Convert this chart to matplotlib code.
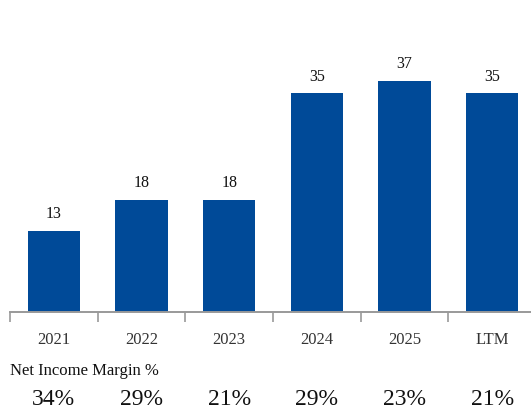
import matplotlib.pyplot as plt
import matplotlib.transforms as mtransforms

# net income by period, with margin % shown under the axis
periods = ['2021', '2022', '2023', '2024', '2025', 'LTM']
net_income = [13, 18, 18, 35, 37, 35]
margins = ['34%', '29%', '21%', '29%', '23%', '21%']

bar_color = '#004A98'
plt.rcParams['font.family'] = ['Liberation Serif', 'DejaVu Serif']

fig = plt.figure(figsize=(5.31, 4.14), dpi=100)
W, H = 531, 414
ax = fig.add_axes([10 / W, 101 / H, 526 / W, 293 / H])

x = list(range(len(periods)))
bars = ax.bar(x, net_income, width=0.6, color=bar_color)
for xi, v in zip(x, net_income):
    ax.annotate(str(v), (xi, v), xytext=(0, 7), textcoords='offset points',
                ha='center', va='bottom', fontsize=11.5, color='#111111')

ax.set_xlim(-0.5, 5.5)
ax.set_ylim(0, 293 / 6.25)

for s in ['top', 'right', 'left']:
    ax.spines[s].set_visible(False)
ax.spines['bottom'].set_color('#999999')
ax.spines['bottom'].set_linewidth(1.4)
ax.set_yticks([])

ax.set_xticks(x)
ax.set_xticklabels(periods, fontsize=12, color='#333333')
ax.tick_params(axis='x', which='major', length=0, pad=14)
ax.set_xticks([i - 0.5 for i in x], minor=True)
ax.tick_params(axis='x', which='minor', length=7, width=1.2, color='#999999')

fig.text(10 / W, 1 - 371 / H, 'Net Income Margin %', fontsize=12,
         ha='left', va='center', color='#111111')
trans = mtransforms.blended_transform_factory(ax.transData, fig.transFigure)
for xi, m in zip(x, margins):
    ax.text(xi, 1 - 400 / H, m, transform=trans, ha='center', va='center',
            fontsize=17, color='#111111')

fig.savefig('out.png', dpi=100)
